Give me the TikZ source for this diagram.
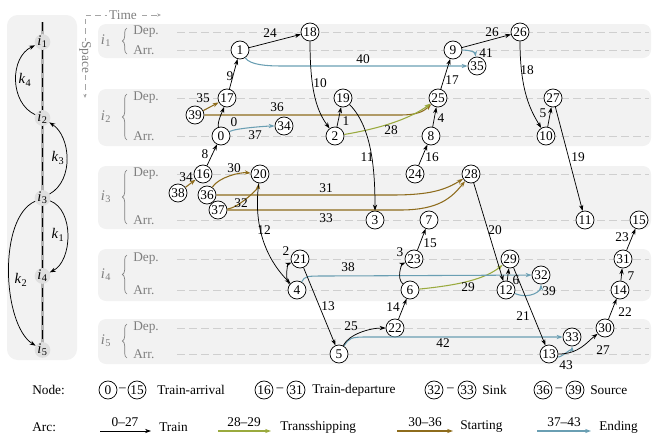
\documentclass[tikz,border=0pt]{standalone}
\usepackage{fontspec}
\setmainfont{Liberation Serif}
\usetikzlibrary{arrows.meta,decorations.pathreplacing}
\definecolor{bandgray}{HTML}{F2F2F2}
\definecolor{dashgray}{HTML}{CFCFCF}
\definecolor{txtgray}{HTML}{7F7F7F}
\definecolor{trcol}{HTML}{9AAA3E}
\definecolor{stcol}{HTML}{8E6C1C}
\definecolor{encol}{HTML}{6A9FB3}
\newcommand\numfont{\fontsize{10}{11}\selectfont}
\newcommand\stx[2]{\textit{#1}\kern0.2pt\textsubscript{#2}}
\tikzset{
 tn/.style={circle,draw,line width=0.55pt,minimum size=13.5pt,inner sep=0pt,font=\numfont,fill=white},
 lbl/.style={inner sep=0pt,font=\numfont},
 gtxt/.style={inner sep=0pt,font=\numfont,text=txtgray},
 tarc/.style={-{Stealth[length=4.5pt,width=3.2pt]},line width=0.55pt},
 trarc/.style={-{Stealth[length=4.5pt,width=3.2pt]},line width=0.8pt,draw=trcol},
 starc/.style={-{Stealth[length=4.5pt,width=3.2pt]},line width=0.8pt,draw=stcol},
 enarc/.style={-{Stealth[length=4.5pt,width=3.2pt]},line width=0.8pt,draw=encol},
 band/.style={fill=bandgray,rounded corners=6},
 dline/.style={draw=dashgray,line width=0.6pt,dash pattern=on 6pt off 3pt},
 axisline/.style={draw=txtgray!70,line width=0.5pt,dash pattern=on 4pt off 3pt,-{Stealth[length=3pt,width=2.5pt]}},
 stn/.style={circle,fill=gray!25,minimum size=11pt,inner sep=0pt,font=\fontsize{11}{12}\selectfont},
 karc/.style={-{Stealth[length=4.5pt,width=3.2pt]},line width=0.55pt},
 brc/.style={decorate,decoration={brace,amplitude=3.5pt},draw=txtgray,line width=0.5pt},
}
\begin{document}
\begin{tikzpicture}[x=0.75pt,y=-0.75pt]
\useasboundingbox (0,0) rectangle (653,436);
% ---------- left panel ----------
\fill[bandgray,rounded corners=8] (7,15) rectangle (77,360);
\draw[gray!60,line width=2.4pt] (42.5,22) -- (42.5,350);
\draw[black,line width=1.1pt,dash pattern=on 7pt off 3.5pt] (42.5,22) -- (42.5,350);
\node[stn] (s1) at (42.5,42) {\stx{i}{1}};
\node[stn] (s2) at (42.5,118) {\stx{i}{2}};
\node[stn] (s3) at (42.5,198) {\stx{i}{3}};
\node[stn] (s4) at (42.5,276) {\stx{i}{4}};
\node[stn] (s5) at (42.5,350) {\stx{i}{5}};
\draw[karc] (s2) .. controls +(-33,-15) and +(-33,15) .. (s1);
\draw[karc] (s3) .. controls +(32,-18) and +(28,18) .. (s2);
\draw[karc] (s3) .. controls +(32,12) and +(30,-15) .. (s4);
\draw[karc] (s3) .. controls +(-45,20) and +(-40,-25) .. (s5);
\node[inner sep=0pt,font=\fontsize{11}{12}\selectfont] (k4) at (25,80) {\stx{k}{4}};
\node[inner sep=0pt,font=\fontsize{11}{12}\selectfont] (k3) at (58,158) {\stx{k}{3}};
\node[inner sep=0pt,font=\fontsize{11}{12}\selectfont] (k1) at (58,235) {\stx{k}{1}};
\node[inner sep=0pt,font=\fontsize{11}{12}\selectfont] (k2) at (21,280) {\stx{k}{2}};
% ---------- axes ----------
\coordinate (ax0) at (86,15);
\coordinate (axt) at (161,15);
\coordinate (axs) at (85,98);
\draw[axisline] (ax0) -- (axt);
\draw[axisline] (85,19) -- (axs);
\node[gtxt,fill=white,inner xsep=1.5pt] (time) at (123,15) {Time};
\node[gtxt,fill=white,inner ysep=1.5pt,rotate=-90] (space) at (85,57) {Space};
% ---------- bands ----------
\fill[band] (98,24) rectangle (651,58);
\fill[band] (98,89) rectangle (651,146);
\fill[band] (98,166) rectangle (651,229);
\fill[band] (98,249) rectangle (651,301);
\fill[band] (98,319) rectangle (651,364);
\foreach \yy in {32,50,98,136,174,220,259,290,328,354}{
  \draw[dline] (177,\yy) -- (649,\yy);
}
\foreach \nm/\yc/\yd/\ya in {1/41/32/50,2/117/98/136,3/197/174/220,4/275/259/290,5/341/328/354}{
  \node[gtxt,font=\fontsize{11}{12}\selectfont] (bl\nm) at (106,\yc) {\stx{i}{\nm}};
  \draw[brc] (127,\ya+4) -- (127,\yd-4);
  \node[gtxt,anchor=west] (dep\nm) at (133,\yd) {Dep.};
  \node[gtxt,anchor=west] (arr\nm) at (133,\ya) {Arr.};
}
% ---------- nodes ----------
\node[tn] (n0) at (221,136) {0};
\node[tn] (n1) at (240,50) {1};
\node[tn] (n2) at (335,136) {2};
\node[tn] (n3) at (375,220) {3};
\node[tn] (n4) at (297,290) {4};
\node[tn] (n5) at (339,354) {5};
\node[tn] (n6) at (410,290) {6};
\node[tn] (n7) at (429,220) {7};
\node[tn] (n8) at (431,136) {8};
\node[tn] (n9) at (453,50) {9};
\node[tn] (n10) at (546,136) {10};
\node[tn] (n11) at (585,220) {11};
\node[tn] (n12) at (506,290) {12};
\node[tn] (n13) at (549,354) {13};
\node[tn] (n14) at (620,290) {14};
\node[tn] (n15) at (639,220) {15};
\node[tn] (n16) at (203,174) {16};
\node[tn] (n17) at (227,98) {17};
\node[tn] (n18) at (310,32) {18};
\node[tn] (n19) at (343,98) {19};
\node[tn] (n20) at (260,174) {20};
\node[tn] (n21) at (300,259) {21};
\node[tn] (n22) at (395,328) {22};
\node[tn] (n23) at (414,259) {23};
\node[tn] (n24) at (415,174) {24};
\node[tn] (n25) at (438,98) {25};
\node[tn] (n26) at (520,32) {26};
\node[tn] (n27) at (553,98) {27};
\node[tn] (n28) at (471,174) {28};
\node[tn] (n29) at (510,259) {29};
\node[tn] (n30) at (605,328) {30};
\node[tn] (n31) at (623,259) {31};
\node[tn] (n32) at (541,275) {32};
\node[tn] (n33) at (572,337) {33};
\node[tn] (n34) at (284,126) {34};
\node[tn] (n35) at (477,66) {35};
\node[tn] (n36) at (207,195) {36};
\node[tn] (n37) at (218,210) {37};
\node[tn] (n38) at (178,193) {38};
\node[tn] (n39) at (195,115) {39};
% ---------- starting arcs ----------
\draw[starc] (n36) .. controls +(12,-18) and +(-20,-2) .. (n20);
\draw[starc] (n36.east) -- (392,195) .. controls (430,195) and (445,190) .. (n28);
\draw[starc] (n37) .. controls +(20,-2) and +(-2,15) .. (n20);
\draw[starc] (n37.east) -- (400,210) .. controls (440,210) and (452,197) .. (n28);
\draw[starc] (n38) -- (n16);
\draw[starc] (n39) -- (n17);
\draw[starc] (n39.east) -- (400,115) .. controls (418,115) and (424,111) .. (n25);
% ---------- transshipping arcs ----------
\draw[trarc] (n2) .. controls +(60,-10) and +(-20,15) .. (n25);
\draw[trarc] (n6) .. controls +(50,-5) and +(-25,20) .. (n29);
% ---------- ending arcs ----------
\draw[enarc] (n0) .. controls +(15,-8) and +(-15,0) .. (n34);
\draw[enarc] (n4) .. controls +(8,-14) and +(-20,0) .. (326,276) -- (n32);
\draw[enarc] (n12) .. controls +(25,10) and +(0,15) .. (n32);
\draw[enarc] (n1) .. controls +(10,15) and +(-15,0) .. (282,66) -- (n35);
\draw[enarc] (n9) .. controls +(16,0) and +(-2,-14) .. (n35);
\draw[enarc] (n5) .. controls +(10,-16) and +(-15,0) .. (366,337) -- (n33);
\draw[enarc] (n13) .. controls +(12,4) and +(0,10) .. (n33);
% ---------- train arcs ----------
\draw[tarc] (n1) -- (n18);
\draw[tarc] (n17) -- (n1);
\draw[tarc] (n0) .. controls +(-4,-14) and +(-4,12) .. (n17);
\draw[tarc] (n16) -- (n0);
\draw[tarc] (n18) .. controls +(0,60) and +(-18,-25) .. (n2);
\draw[tarc] (n2) -- (n19);
\draw[tarc] (n19) .. controls +(30,30) and +(0,-45) .. (n3);
\draw[tarc] (n8) -- (n25);
\draw[tarc] (n24) -- (n8);
\draw[tarc] (n25) -- (n9);
\draw[tarc] (n9) -- (n26);
\draw[tarc] (n26) .. controls +(0,60) and +(-15,-25) .. (n10);
\draw[tarc] (n10) -- (n27);
\draw[tarc] (n27) -- (n11);
\draw[tarc] (n20) .. controls +(-8,60) and +(-25,-25) .. (n4);
\draw[tarc] (n4) .. controls +(-13,-10) and +(-12,5) .. (n21);
\draw[tarc] (n21) -- (n5);
\draw[tarc] (n5) .. controls +(10,-20) and +(-25,0) .. (n22);
\draw[tarc] (n22) -- (n6);
\draw[tarc] (n6) .. controls +(-14,-12) and +(-12,5) .. (n23);
\draw[tarc] (n23) -- (n7);
\draw[tarc] (n28) -- (n12);
\draw[tarc] (n12) -- (n29);
\draw[tarc] (n29) -- (n13);
\draw[tarc] (n13) .. controls +(30,0) and +(-18,14) .. (n30);
\draw[tarc] (n30) -- (n14);
\draw[tarc] (n14) -- (n31);
\draw[tarc] (n31) -- (n15);
% ---------- arc labels ----------
\foreach \t/\xx/\yy in {24/270/33, 9/230/76, 0/234/122, 8/205/154, 10/320/83, 1/346/121,
  11/367/157, 4/441/118, 16/432/157, 17/452/80, 26/492/32, 18/527/70, 5/543/113,
  19/578/157, 12/264/230, 2/286/251, 13/328/306, 25/351/326, 14/393/307, 3/400/252,
  15/430/243, 20/495/230, 6/516/280, 21/523/316, 27/603/350, 22/625/312, 7/631/276,
  23/622/237, 28/391/130, 29/468/287, 30/234/168, 31/326/188, 32/241/203, 33/326/218,
  34/186/177, 35/203/98, 36/277/107, 37/255/135, 38/348/267, 39/549/291, 40/363/59,
  41/486/53, 42/443/343, 43/566/365}{
  \node[lbl] (lab\t) at (\xx,\yy) {\t};
}
% ---------- legend ----------
\node[lbl,anchor=west] (lgnode) at (32,390) {Node:};
\node[tn] (lg0) at (108,390) {0};
\node[lbl] (lgd1) at (122.5,390) {--};
\node[tn] (lg15) at (137,390) {15};
\node[lbl,anchor=west] (lgta) at (157,390) {Train-arrival};
\node[tn] (lg16) at (264,390) {16};
\node[lbl] (lgd2) at (280,390) {--};
\node[tn] (lg31) at (296,390) {31};
\node[lbl,anchor=west] (lgtd) at (312,390) {Train-departure};
\node[tn] (lg32) at (434,390) {32};
\node[lbl] (lgd3) at (450.5,390) {--};
\node[tn] (lg33) at (467,390) {33};
\node[lbl,anchor=west] (lgsk) at (482,390) {Sink};
\node[tn] (lg36) at (543,390) {36};
\node[lbl] (lgd4) at (559,390) {--};
\node[tn] (lg39) at (575,390) {39};
\node[lbl,anchor=west] (lgsr) at (590,390) {Source};
\node[lbl,anchor=west] (lgarc) at (32,427) {Arc:};
\coordinate (a1s) at (100,431); \coordinate (a1e) at (151,431);
\coordinate (a2s) at (218,431); \coordinate (a2e) at (271,431);
\coordinate (a3s) at (397,431); \coordinate (a3e) at (453,431);
\coordinate (a4s) at (537,431); \coordinate (a4e) at (591,431);
\draw[tarc] (a1s) -- (a1e);
\draw[trarc] (a2s) -- (a2e);
\draw[starc] (a3s) -- (a3e);
\draw[enarc] (a4s) -- (a4e);
\node[lbl] (la1) at (125,422) {0--27};
\node[lbl] (la2) at (244,422) {28--29};
\node[lbl] (la3) at (425,422) {30--36};
\node[lbl] (la4) at (564,422) {37--43};
\node[lbl,anchor=west] (lt1) at (159,427) {Train};
\node[lbl,anchor=west] (lt2) at (280,427) {Transshipping};
\node[lbl,anchor=west] (lt3) at (460,427) {Starting};
\node[lbl,anchor=west] (lt4) at (599,427) {Ending};
\end{tikzpicture}
\end{document}
